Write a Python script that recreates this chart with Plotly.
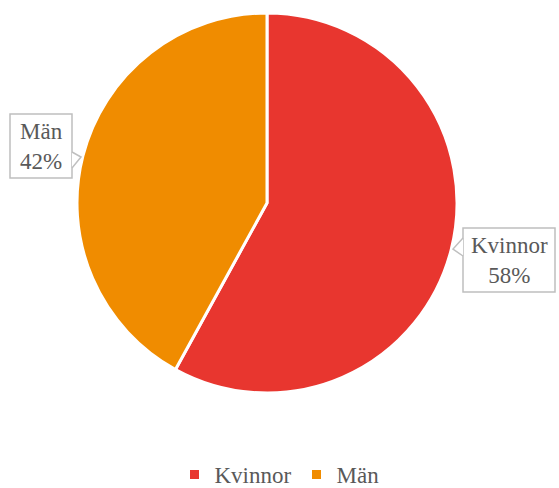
import plotly.graph_objects as go

categories = ["Kvinnor", "Män"]
values = [58, 42]
colors = ["#E8362F", "#F08C00"]

W, H = 559, 488
cx, cy, r = 267, 203, 190

fig = go.Figure(go.Pie(
    labels=categories,
    values=values,
    sort=False,
    direction="clockwise",
    rotation=0,
    marker=dict(colors=colors, line=dict(color="white", width=3)),
    textinfo="none",
    hoverinfo="none",
    domain=dict(x=[(cx - r) / W, (cx + r) / W], y=[1 - (cy + r) / H, 1 - (cy - r) / H]),
))

font = dict(family="'Times New Roman', 'Liberation Serif', 'DejaVu Serif', serif", size=23, color="#595959")

def px(x):
    return x / W

def py(y):
    return 1 - y / H

# callout label boxes (centre x, centre y, width, height) in pixels
boxes = [(509, 260, 92, 64), (41, 146, 62, 64)]
for (bx, by, bw, bh), cat, v in zip(boxes, categories, values):
    fig.add_shape(type="rect", xref="paper", yref="paper",
                  x0=px(bx - bw / 2), x1=px(bx + bw / 2),
                  y0=py(by + bh / 2), y1=py(by - bh / 2),
                  line=dict(color="#BFBFBF", width=1.5), fillcolor="white", layer="above")
    fig.add_annotation(
        x=px(bx), y=py(by), xref="paper", yref="paper",
        text=f"{cat}<br>{v}%", showarrow=False, align="center",
        font=font, xanchor="center", yanchor="middle",
    )

# callout pointers (decoration)
fig.add_shape(type="path", xref="paper", yref="paper",
              path=f"M {px(463)} {py(238)} L {px(453)} {py(249)} L {px(463)} {py(256)}",
              line=dict(color="#BFBFBF", width=1.5), fillcolor="white", layer="above")
fig.add_shape(type="path", xref="paper", yref="paper",
              path=f"M {px(72)} {py(152)} L {px(81)} {py(157)} L {px(72)} {py(168)}",
              line=dict(color="#BFBFBF", width=1.5), fillcolor="white", layer="above")

fig.update_layout(
    width=W, height=H,
    margin=dict(l=0, r=0, t=0, b=0, pad=0, autoexpand=False),
    paper_bgcolor="white", plot_bgcolor="white",
    font=font,
    showlegend=True,
    legend=dict(orientation="h", x=0.5, xanchor="center", y=py(496), yanchor="bottom",
                font=font, traceorder="normal", itemwidth=30, tracegroupgap=0),
)

fig.write_html("out.html", config={"displayModeBar": False},
               post_script="document.body.style.margin='0';document.body.style.overflow='hidden';")
